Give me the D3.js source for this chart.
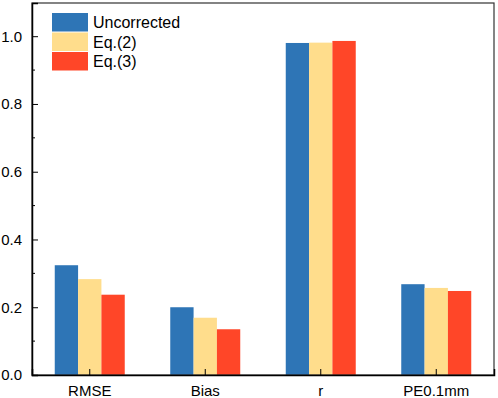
<!DOCTYPE html>
<html>
<head>
<meta charset="utf-8">
<script src="https://cdn.jsdelivr.net/npm/d3@7"></script>
<style>
  body { margin: 0; background: #fff; }
  svg text { font-family: Arial, "Liberation Sans", sans-serif; fill: #000; }
</style>
</head>
<body>
<svg id="chart" width="498" height="398"></svg>
<script>
// categories and series
const categories = ['RMSE', 'Bias', 'r', 'PE0.1mm'];
const seriesNames = ['Uncorrected', 'Eq.(2)', 'Eq.(3)'];
const uncorrected = [0.324, 0.200, 0.980, 0.268];
const eq2 = [0.283, 0.169, 0.981, 0.257];
const eq3 = [0.237, 0.135, 0.986, 0.248];
const yTicks = [0, 0.2, 0.4, 0.6, 0.8, 1.0];
const colors = ['#2e75b6', '#ffdd8c', '#ff4628'];

const series = [uncorrected, eq2, eq3];
const margin = { top: 3, right: 4, bottom: 23, left: 32 };
const W = 498, H = 398;
const w = W - margin.left - margin.right;
const h = H - margin.top - margin.bottom;

const svg = d3.select('#chart');
const g = svg.append('g').attr('transform', `translate(${margin.left},${margin.top})`);

const x = d3.scaleBand().domain(categories).range([0, w]).padding(0);
const groupW = x.bandwidth() * 0.606;
const x1 = d3.scaleBand().domain(d3.range(series.length)).range([0, groupW]);
const y = d3.scaleLinear().domain([0, 1.098]).range([h, 0]);

// bars
g.selectAll('g.series')
  .data(series)
  .join('g')
  .classed('series', true)
  .style('fill', (d, i) => colors[i])
  .selectAll('rect')
  .data((d, i) => d.map((v, j) => ({ v, cat: categories[j], s: i })))
  .join('rect')
  .attr('x', d => x(d.cat) + (x.bandwidth() - groupW) / 2 + x1(d.s))
  .attr('y', d => y(d.v))
  .attr('width', x1.bandwidth())
  .attr('height', d => h - y(d.v));

// frame
g.append('rect')
  .attr('x', 0).attr('y', 0).attr('width', w).attr('height', h)
  .style('fill', 'none').style('stroke', '#333').style('stroke-width', 1.2);

// y axis, ticks inward
const yAxis = d3.axisLeft(y).tickValues(yTicks).tickFormat(d3.format('.1f')).tickSize(-6).tickPadding(10);
const ya = g.append('g').call(yAxis);
ya.select('.domain').style('stroke-width', 1.5);
ya.selectAll('text').style('font-size', '15px');
// minor ticks
g.append('g').selectAll('line')
  .data([0.1, 0.3, 0.5, 0.7, 0.9])
  .join('line')
  .attr('x1', 0).attr('x2', 3)
  .attr('y1', d => y(d)).attr('y2', d => y(d))
  .style('stroke', '#000');

// x axis, ticks inward
const xAxis = d3.axisBottom(x).tickSize(-6).tickPadding(10);
const xa = g.append('g').attr('transform', `translate(0,${h})`).call(xAxis);
xa.select('.domain').style('stroke-width', 1.5);
xa.selectAll('text').style('font-size', '15px');

// legend
const legend = g.append('g').attr('transform', 'translate(20,10)');
seriesNames.forEach((name, i) => {
  const row = legend.append('g').attr('transform', `translate(0,${i * 19.5})`);
  row.append('rect').attr('width', 36).attr('height', 18.5).style('fill', colors[i]);
  row.append('text').attr('x', 41).attr('y', 15).style('font-size', '16px').text(name);
});
</script>
</body>
</html>
